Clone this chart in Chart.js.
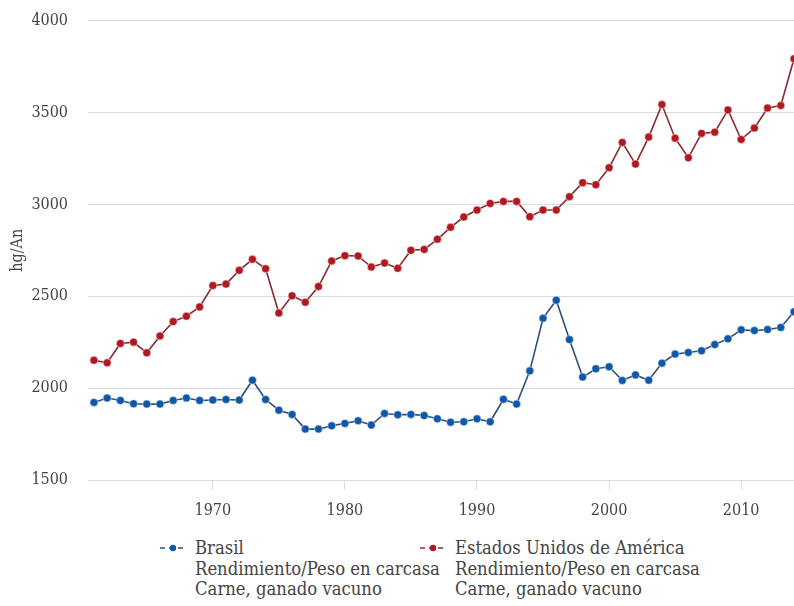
<!DOCTYPE html>
<html>
<head>
<meta charset="utf-8">
<script src="https://cdn.jsdelivr.net/npm/chart.js@4.4.1/dist/chart.umd.min.js"></script>
<style>
  body { margin: 0; background: #fff; width: 794px; height: 606px; overflow: hidden; position: relative; }
  #wrap { position: absolute; left: 0; top: -9px; width: 794px; height: 539px; }
  .legend { position: absolute; top: 538px; font-family: 'DejaVu Serif Condensed', 'DejaVu Serif', serif; font-size: 18.3px; line-height: 20.5px; color: #444; white-space: nowrap; }
  .legend svg { position: absolute; left: -36px; top: 4px; }
</style>
</head>
<body>
<div id="wrap"><canvas id="chart" width="794" height="539"></canvas></div>
<div class="legend" id="leg0" style="left:195px"></div>
<div class="legend" id="leg1" style="left:455px"></div>
<script>
// Years and yields (hg/An)
const years = [];
for (let y = 1961; y <= 2014; y++) years.push(y);

const brasil = [1922, 1946, 1933, 1915, 1913, 1913, 1933, 1946, 1933, 1935,
  1938, 1935, 2043, 1938, 1880, 1857, 1777, 1777, 1795, 1808,
  1822, 1799, 1862, 1855, 1857, 1851, 1833, 1814, 1817, 1833,
  1817, 1939, 1913, 2094, 2380, 2478, 2264, 2060, 2105, 2116,
  2042, 2072, 2043, 2136, 2185, 2194, 2203, 2237, 2268, 2317,
  2313, 2319, 2330, 2415];

const usa = [2152, 2138, 2243, 2250, 2192, 2284, 2362, 2391, 2442, 2558,
  2566, 2641, 2701, 2650, 2409, 2502, 2467, 2553, 2692, 2721,
  2719, 2659, 2681, 2652, 2750, 2755, 2810, 2875, 2931, 2969,
  3005, 3016, 3016, 2933, 2969, 2969, 3042, 3118, 3107, 3199,
  3337, 3219, 3366, 3543, 3360, 3254, 3386, 3393, 3514, 3353,
  3415, 3524, 3538, 3792];

const xTicks = [1970, 1980, 1990, 2000, 2010];
const yTicks = [1500, 2000, 2500, 3000, 3500, 4000];

const seriesNames = ['Brasil', 'Estados Unidos de América'];
const seriesSub = ['Rendimiento/Peso en carcasa', 'Carne, ganado vacuno'];

const lineColors = ['#2e4f7a', '#8a2a30'];
const dotColors = ['#0d58a8', '#b0191f'];

const fontFam = "'DejaVu Serif Condensed', 'DejaVu Serif', serif";

function toPoints(vals) {
  return vals.map((v, i) => ({ x: years[i], y: v }));
}

const ctx = document.getElementById('chart').getContext('2d');
new Chart(ctx, {
  type: 'line',
  data: {
    datasets: [brasil, usa].map((vals, i) => ({
      label: seriesNames[i],
      data: toPoints(vals),
      borderColor: lineColors[i],
      borderWidth: 1.6,
      pointRadius: 4,
      pointBackgroundColor: dotColors[i],
      pointBorderColor: 'rgba(255,255,255,0.6)',
      pointBorderWidth: 0.8,
      tension: 0,
      clip: false
    }))
  },
  options: {
    responsive: false,
    animation: false,
    layout: { autoPadding: false, padding: { top: 11, right: 0, left: 0, bottom: 0 } },
    plugins: { legend: { display: false }, tooltip: { enabled: false } },
    scales: {
      x: {
        type: 'linear',
        min: 1960.55,
        max: 2014,
        afterBuildTicks: s => { s.ticks = xTicks.map(v => ({ value: v })); },
        afterFit: s => { s.height = 50; },
        grid: { drawOnChartArea: false, drawTicks: true, tickLength: 10, color: '#dcdcdc' },
        border: { display: false },
        ticks: {
          color: '#444',
          padding: 11,
          maxRotation: 0,
          font: { family: fontFam, size: 16 },
          callback: v => String(v)
        }
      },
      y: {
        min: 1500,
        max: 4000,
        afterBuildTicks: s => { s.ticks = yTicks.map(v => ({ value: v })); },
        afterFit: s => { s.width = 88; },
        grid: { drawTicks: false, color: '#dcdcdc', lineWidth: 1 },
        border: { display: false },
        title: {
          display: true,
          text: 'hg/An',
          color: '#444',
          padding: { top: 8, bottom: 0 },
          font: { family: fontFam, size: 16 }
        },
        ticks: {
          color: '#444',
          padding: 20,
          font: { family: fontFam, size: 16 },
          callback: v => String(v)
        }
      }
    }
  }
});

// legend below the chart
seriesNames.forEach((name, i) => {
  const el = document.getElementById('leg' + i);
  const svg = '<svg width="28" height="12" viewBox="0 0 28 12">' +
    '<line x1="1" y1="6" x2="27" y2="6" stroke="' + lineColors[i] + '" stroke-width="1.6" stroke-dasharray="5,4"/>' +
    '<circle cx="14" cy="6" r="3.2" fill="' + dotColors[i] + '"/></svg>';
  el.innerHTML = svg + [name].concat(seriesSub).join('<br>');
});
</script>
</body>
</html>
